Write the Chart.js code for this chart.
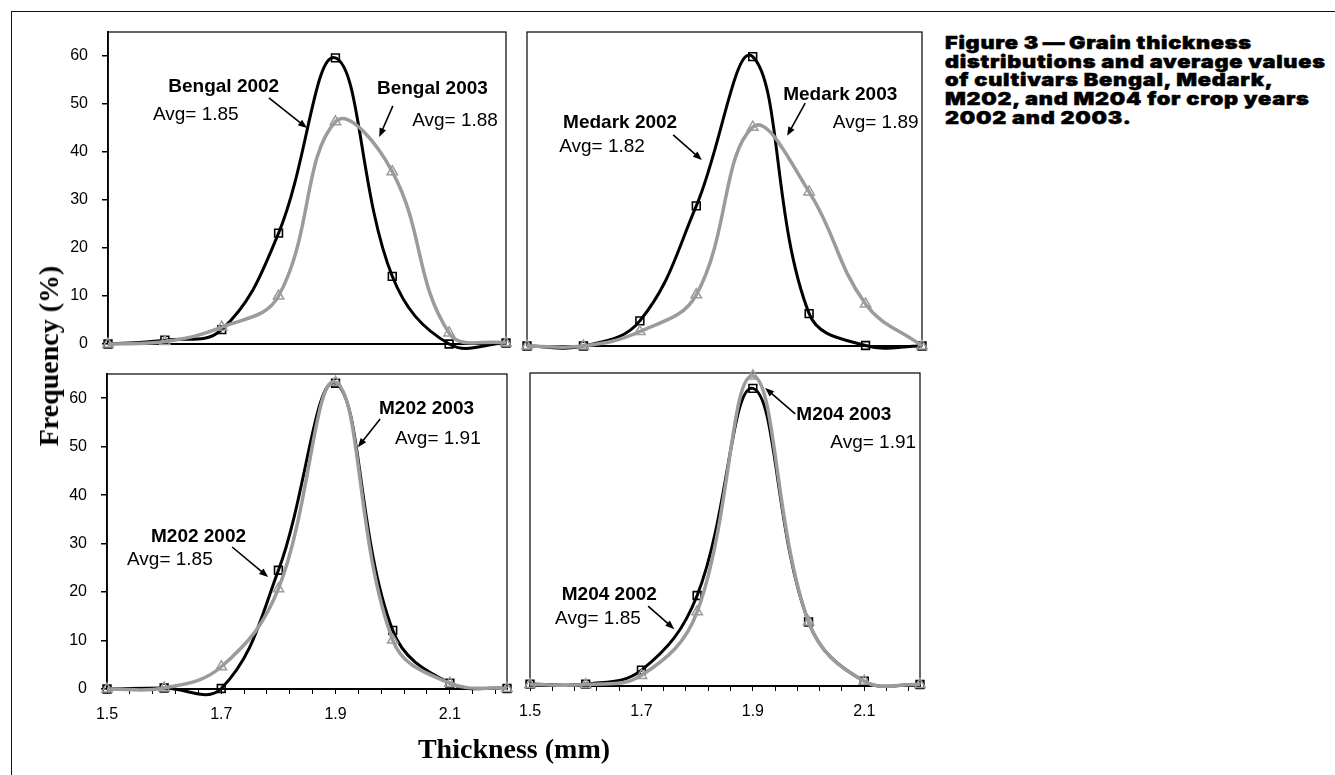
<!DOCTYPE html>
<html>
<head>
<meta charset="utf-8">
<title>Grain thickness distributions</title>
<script src="https://cdn.jsdelivr.net/npm/chart.js@4.4.1/dist/chart.umd.min.js"></script>
<style>
    body {
        margin: 0;
        width: 1335px;
        height: 775px;
        position: relative;
        overflow: hidden;
        background: #fff;
        font-family: "Liberation Sans", Arial, sans-serif;
    }
    .frame-top {
        position: absolute; left: 11px; top: 11px; width: 1324px; height: 0;
        border-top: 1.5px solid #111;
    }
    .frame-left {
        position: absolute; left: 11px; top: 11px; width: 0; height: 764px;
        border-left: 1.5px solid #111;
    }
    canvas { position: absolute; }
    .axis-title {
        position: absolute;
        font: bold 28px "Liberation Serif", "Times New Roman", serif;
        line-height: 1;
        white-space: nowrap;
        color: #000;
    }
    #yTitle { left: 49px; top: 356px; transform: translate(-50%, -50%) rotate(-90deg); }
    #xTitle { left: 514px; top: 735px; transform: translateX(-50%); }
    .caption {
        position: absolute;
        left: 945px;
        top: 34px;
        font: 900 18px Inter, "Liberation Sans", Arial, sans-serif;
        letter-spacing: 0.6px;
        line-height: 18.7px;
        color: #000;
        -webkit-text-stroke: 0.5px #000;
        white-space: nowrap;
        transform: scaleX(1.21);
        transform-origin: left top;
    }
</style>
</head>
<body>
<div class="frame-top"></div>
<div class="frame-left"></div>

<canvas id="bengalChart"></canvas>
<canvas id="medarkChart"></canvas>
<canvas id="m202Chart"></canvas>
<canvas id="m204Chart"></canvas>

<div class="axis-title" id="yTitle">Frequency (%)</div>
<div class="axis-title" id="xTitle">Thickness (mm)</div>

<div class="caption">
    Figure 3&#8201;&mdash;&#8201;Grain thickness<br>
    distributions and average values<br>
    of cultivars Bengal, Medark,<br>
    M202, and M204 for crop years<br>
    2002 and 2003.
</div>

<script>
// Grain thickness classes (mm) and frequency (%) per cultivar and crop year
const thickness = [1.5, 1.6, 1.7, 1.8, 1.9, 2.0, 2.1, 2.2];

const bengal2002 = [0, 0.8, 3.0, 23.1, 59.6, 14.1, 0, 0.2];
const bengal2003 = [0, 0.5, 3.5, 10.0, 46.3, 35.9, 2.3, 0.2];
const medark2002 = [0, 0, 5.2, 29.0, 59.9, 6.7, 0.1, 0];
const medark2003 = [0, 0, 3.0, 10.6, 45.3, 31.9, 8.7, 0];
const m202y2002 = [0, 0.2, 0.1, 24.5, 63.1, 12.1, 1.2, 0.1];
const m202y2003 = [0, 0.2, 4.6, 20.7, 63.3, 10.1, 1.2, 0.1];
const m204y2002 = [0.4, 0.4, 3.3, 18.8, 61.8, 13.3, 1.0, 0.3];
const m204y2003 = [0.3, 0.3, 2.2, 15.4, 64.4, 13.3, 1.0, 0.3];

const cultivars = ["Bengal", "Medark", "M202", "M204"];
const avg2002 = [1.85, 1.82, 1.85, 1.85];
const avg2003 = [1.88, 1.89, 1.91, 1.91];

const freqTicks = [0, 10, 20, 30, 40, 50, 60];
const thicknessTickLabels = [1.5, 1.7, 1.9, 2.1];

const X_MIN = 1.5, X_MAX = 2.2, Y_MAX = 65, MINOR_STEP = 0.04;
const PAD = 12, Y_AXIS_W = 60, X_AXIS_H = 36;

// Plot box plus the series labels with their pointer arrows
const panelDecor = {
    id: "panelDecor",
    beforeDatasetsDraw(chart) {
        const { ctx, chartArea: a } = chart;
        ctx.save();
        ctx.strokeStyle = "#000";
        ctx.lineWidth = 1.2;
        ctx.strokeRect(a.left, a.top, a.right - a.left, a.bottom - a.top);
        ctx.lineWidth = 1.8;
        ctx.beginPath();
        ctx.moveTo(a.left, a.bottom);
        ctx.lineTo(a.right, a.bottom);
        ctx.stroke();
        ctx.restore();
    },
    afterDatasetsDraw(chart, args, opts) {
        const { ctx } = chart;
        const xs = chart.scales.x, ys = chart.scales.y;
        ctx.save();
        ctx.fillStyle = "#000";
        ctx.strokeStyle = "#000";
        ctx.textAlign = "left";
        ctx.textBaseline = "middle";
        (opts.texts || []).forEach(t => {
            ctx.font = (t.bold ? "bold " : "") + '19px "Liberation Sans", Arial, sans-serif';
            ctx.fillText(t.text, xs.getPixelForValue(t.at[0]), ys.getPixelForValue(t.at[1]));
        });
        (opts.arrows || []).forEach(ar => {
            const x1 = xs.getPixelForValue(ar[0]), y1 = ys.getPixelForValue(ar[1]);
            const x2 = xs.getPixelForValue(ar[2]), y2 = ys.getPixelForValue(ar[3]);
            const ang = Math.atan2(y2 - y1, x2 - x1);
            const head = 9, half = 3.5;
            ctx.lineWidth = 1.6;
            ctx.beginPath();
            ctx.moveTo(x1, y1);
            ctx.lineTo(x2 - Math.cos(ang) * head * 0.8, y2 - Math.sin(ang) * head * 0.8);
            ctx.stroke();
            ctx.beginPath();
            ctx.moveTo(x2, y2);
            ctx.lineTo(x2 - Math.cos(ang) * head + Math.sin(ang) * half, y2 - Math.sin(ang) * head - Math.cos(ang) * half);
            ctx.lineTo(x2 - Math.cos(ang) * head - Math.sin(ang) * half, y2 - Math.sin(ang) * head + Math.cos(ang) * half);
            ctx.closePath();
            ctx.fill();
        });
        ctx.restore();
    }
};

function toPoints(values) {
    return thickness.map((t, i) => ({ x: t, y: values[i] }));
}

function buildNotes(i, n) {
    return {
        texts: [
            { text: cultivars[i] + " 2002", bold: true, at: n.name2002 },
            { text: "Avg= " + avg2002[i].toFixed(2), bold: false, at: n.avg2002 },
            { text: cultivars[i] + " 2003", bold: true, at: n.name2003 },
            { text: "Avg= " + avg2003[i].toFixed(2), bold: false, at: n.avg2003 }
        ],
        arrows: [n.arrow2002, n.arrow2003]
    };
}

// axes get a fixed size and no label overhang, so the plot box lands on `area`
function fixSize(scale, shown, prop, size) {
    scale[prop] = shown ? size : 0;
    scale.paddingLeft = scale.paddingRight = scale.paddingTop = scale.paddingBottom = 0;
}

function makePanel(canvasId, area, showY, showX, s2002, s2003, notes) {
    const canvas = document.getElementById(canvasId);
    const left = area.left - PAD - (showY ? Y_AXIS_W : 0);
    const top = area.top - PAD;
    canvas.width = area.width + 2 * PAD + (showY ? Y_AXIS_W : 0);
    canvas.height = area.height + 2 * PAD + (showX ? X_AXIS_H : 0);
    canvas.style.left = left + "px";
    canvas.style.top = top + "px";

    return new Chart(canvas.getContext("2d"), {
        type: "line",
        data: {
            datasets: [
                {
                    label: "2003",
                    data: toPoints(s2003),
                    borderColor: "#9b9b9b",
                    borderWidth: 3.5,
                    pointStyle: "triangle",
                    pointRadius: 6,
                    pointBorderWidth: 1.5,
                    pointBorderColor: "#9b9b9b",
                    pointBackgroundColor: "rgba(0,0,0,0)",
                    tension: 0.4,
                    clip: false
                },
                {
                    label: "2002",
                    data: toPoints(s2002),
                    borderColor: "#000",
                    borderWidth: 3,
                    pointStyle: "rect",
                    pointRadius: 5.5,
                    pointBorderWidth: 1.6,
                    pointBorderColor: "#000",
                    pointBackgroundColor: "rgba(0,0,0,0)",
                    tension: 0.4,
                    clip: false
                }
            ]
        },
        options: {
            responsive: false,
            animation: false,
            events: [],
            layout: { padding: PAD },
            elements: { line: { capBezierPoints: false } },
            plugins: {
                legend: { display: false },
                tooltip: { enabled: false },
                panelDecor: notes
            },
            scales: {
                x: {
                    type: "linear",
                    display: showX,
                    min: X_MIN,
                    max: X_MAX,
                    afterBuildTicks(scale) {
                        const ticks = [];
                        for (let i = 0; X_MIN + i * MINOR_STEP <= X_MAX + 1e-9; i++) {
                            ticks.push({ value: +(X_MIN + i * MINOR_STEP).toFixed(2) });
                        }
                        scale.ticks = ticks;
                    },
                    afterFit(scale) { fixSize(scale, showX, "height", X_AXIS_H); },
                    grid: { drawOnChartArea: false, drawTicks: true, tickLength: 5, color: "#000", lineWidth: 1 },
                    border: { display: true, color: "#000", width: 1.8 },
                    ticks: {
                        autoSkip: false,
                        maxRotation: 0,
                        padding: 11,
                        color: "#000",
                        font: { family: '"Liberation Sans", Arial, sans-serif', size: 16 },
                        callback: v => thicknessTickLabels.some(t => Math.abs(t - v) < 1e-6) ? v.toFixed(1) : ""
                    }
                },
                y: {
                    type: "linear",
                    display: showY,
                    min: 0,
                    max: Y_MAX,
                    afterBuildTicks(scale) {
                        scale.ticks = freqTicks.map(v => ({ value: v }));
                    },
                    afterFit(scale) { fixSize(scale, showY, "width", Y_AXIS_W); },
                    grid: { drawOnChartArea: false, drawTicks: true, tickLength: 6, color: "#000", lineWidth: 1.5 },
                    border: { display: true, color: "#000", width: 1.8 },
                    ticks: {
                        padding: 14,
                        color: "#000",
                        font: { family: '"Liberation Sans", Arial, sans-serif', size: 16 }
                    }
                }
            }
        },
        plugins: [panelDecor]
    });
}

makePanel("bengalChart", { left: 108, top: 32, width: 398, height: 312 }, true, false,
    bengal2002, bengal2003, buildNotes(0, {
        name2002: [1.606, 53.5], avg2002: [1.579, 47.7], arrow2002: [1.783, 51.3, 1.850, 45.0],
        name2003: [1.973, 53.1], avg2003: [2.035, 46.5], arrow2003: [2.001, 49.6, 1.977, 43.1]
    }));

makePanel("medarkChart", { left: 527, top: 32, width: 395, height: 314 }, false, false,
    medark2002, medark2003, buildNotes(1, {
        name2002: [1.564, 46.2], avg2002: [1.557, 41.2], arrow2002: [1.759, 43.7, 1.810, 38.5],
        name2003: [1.954, 52.0], avg2003: [2.042, 46.2], arrow2003: [1.993, 50.3, 1.961, 43.5]
    }));

makePanel("m202Chart", { left: 107, top: 374, width: 400, height: 315 }, true, true,
    m202y2002, m202y2003, buildNotes(2, {
        name2002: [1.577, 31.4], avg2002: [1.535, 26.6], arrow2002: [1.719, 29.3, 1.782, 23.1],
        name2003: [1.976, 57.8], avg2003: [2.004, 51.6], arrow2003: [1.978, 55.7, 1.939, 49.9]
    }));

makePanel("m204Chart", { left: 530, top: 373, width: 390, height: 313 }, false, true,
    m204y2002, m204y2003, buildNotes(3, {
        name2002: [1.557, 18.9], avg2002: [1.545, 13.9], arrow2002: [1.712, 16.6, 1.759, 11.8],
        name2003: [1.978, 56.3], avg2003: [2.039, 50.5], arrow2003: [1.976, 56.5, 1.922, 61.9]
    }));
</script>
</body>
</html>
